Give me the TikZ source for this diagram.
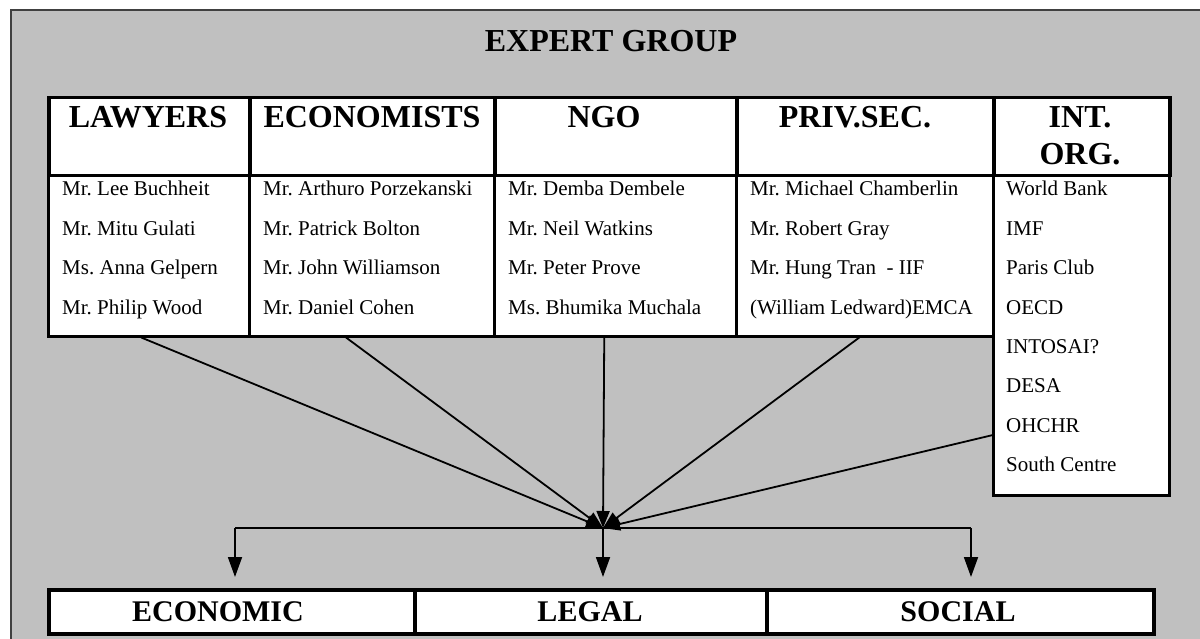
\documentclass[tikz,border=0pt]{standalone}
\usepackage{fontspec}
\setmainfont{Liberation Serif}
\usetikzlibrary{arrows.meta,calc}
\definecolor{panel}{HTML}{C0C0C0}
\definecolor{framecol}{HTML}{404040}

\begin{document}
\frenchspacing
\begin{tikzpicture}[x=1pt,y=-1pt,
  headcell/.style={draw,fill=white,line width=3.5pt,inner sep=0pt,anchor=north west},
  bodycell/.style={draw,fill=white,line width=2.5pt,inner sep=0pt,anchor=north west},
  areabox/.style={draw,fill=white,line width=4pt,inner sep=0pt,anchor=north west,minimum height=44pt},
  titletext/.style={font=\fontsize{32}{36}\selectfont\bfseries,inner sep=0pt,anchor=base},
  headtext/.style={font=\fontsize{32}{37}\selectfont\bfseries,inner sep=0pt,anchor=base},
  areatext/.style={font=\fontsize{30}{34}\selectfont\bfseries,inner sep=0pt,anchor=base},
  nametext/.style={font=\fontsize{21}{24}\selectfont,inner sep=0pt,anchor=base west},
  link/.style={line width=1.8pt,-{Triangle[length=17pt,width=13pt]}},
  plain/.style={line width=1.8pt},
  down/.style={line width=1.8pt,-{Triangle[length=20pt,width=14pt]}}]

\useasboundingbox (0,0) rectangle (1200,639);
\clip (0,0) rectangle (1200,639);
\fill[white] (0,0) rectangle (1200,639);

% grey panel with its frame
\draw[fill=panel,draw=framecol,line width=2pt] (11,10) rectangle (1210,650);

\node[titletext] (title) at (611,52) {EXPERT GROUP};

% table bodies
\node[bodycell,minimum width=201pt,minimum height=161pt] (b1) at (47,174) {};
\node[bodycell,minimum width=245pt,minimum height=161pt] (b2) at (248,174) {};
\node[bodycell,minimum width=242pt,minimum height=161pt] (b3) at (493,174) {};
\node[bodycell,minimum width=257pt,minimum height=161pt] (b4) at (735,174) {};
\node[bodycell,minimum width=176pt,minimum height=320pt] (b5) at (992,174) {};

% table headers
\node[headcell,minimum width=201pt,minimum height=78pt] (h1) at (47,96) {};
\node[headcell,minimum width=245pt,minimum height=78pt] (h2) at (248,96) {};
\node[headcell,minimum width=242pt,minimum height=78pt] (h3) at (493,96) {};
\node[headcell,minimum width=257pt,minimum height=78pt] (h4) at (735,96) {};
\node[headcell,minimum width=176pt,minimum height=78pt] (h5) at (992,96) {};

\node[headtext] (ht1) at (148,128) {LAWYERS};
\node[headtext] (ht2) at (372,128) {ECONOMISTS};
\node[headtext] (ht3) at (604,128) {NGO};
\node[headtext] (ht4) at (855,128) {PRIV.SEC.};
\node[headtext] (ht5a) at (1080,128) {INT.};
\node[headtext] (ht5b) at (1080,165) {ORG.};

% names
\node[nametext] (n11) at (62,196) {Mr. Lee Buchheit};
\node[nametext] (n12) at (62,235.4) {Mr. Mitu Gulati};
\node[nametext] (n13) at (62,274.7) {Ms. Anna Gelpern};
\node[nametext] (n14) at (62,314) {Mr. Philip Wood};

\node[nametext] (n21) at (263,196) {Mr. Arthuro Porzekanski};
\node[nametext] (n22) at (263,235.4) {Mr. Patrick Bolton};
\node[nametext] (n23) at (263,274.7) {Mr. John Williamson};
\node[nametext] (n24) at (263,314) {Mr. Daniel Cohen};

\node[nametext] (n31) at (508,196) {Mr. Demba Dembele};
\node[nametext] (n32) at (508,235.4) {Mr. Neil Watkins};
\node[nametext] (n33) at (508,274.7) {Mr. Peter Prove};
\node[nametext] (n34) at (508,314) {Ms. Bhumika Muchala};

\node[nametext] (n41) at (750,196) {Mr. Michael Chamberlin};
\node[nametext] (n42) at (750,235.4) {Mr. Robert Gray};
\node[nametext] (n43) at (750,274.7) {Mr. Hung Tran\ \ - IIF};
\node[nametext] (n44) at (750,314) {(William Ledward)EMCA};

\node[nametext] (n51) at (1006,196) {World Bank};
\node[nametext] (n52) at (1006,235.4) {IMF};
\node[nametext] (n53) at (1006,274.7) {Paris Club};
\node[nametext] (n54) at (1006,314) {OECD};
\node[nametext] (n55) at (1006,353.3) {INTOSAI?};
\node[nametext] (n56) at (1006,392.6) {DESA};
\node[nametext] (n57) at (1006,432) {OHCHR};
\node[nametext] (n58) at (1006,471) {South Centre};

% result areas
\node[areabox,minimum width=366pt] (eco) at (47,588) {};
\node[areabox,minimum width=352pt] (leg) at (413,588) {};
\node[areabox,minimum width=387pt] (soc) at (765,588) {};
\node[areatext] (ecot) at (218,621) {ECONOMIC};
\node[areatext] (legt) at (590,621) {LEGAL};
\node[areatext] (soct) at (958,621) {SOCIAL};

% meeting point and branch points
\coordinate (hub) at (603,528);
\coordinate (hubL) at (235,528);
\coordinate (hubR) at (971,528);
\coordinate (tipL) at (235,577);
\coordinate (tipC) at (603,577);
\coordinate (tipR) at (971,577);

% connectors into the meeting point
\draw[link] ($(b1.south west)!0.463!(b1.south east)$) -- (hub);
\draw[link] ($(b2.south west)!0.396!(b2.south east)$) -- (hub);
\draw[link] ($(b3.south west)!0.455!(b3.south east)$) -- (hub);
\draw[link] ($(b4.south west)!0.479!(b4.south east)$) -- (hub);
\draw[link] ($(b5.north west)!0.81!(b5.south west)$) -- (hub);

% distribution to the three areas
\draw[plain] (hubL) -- (hubR);
\draw[down] (hubL) -- (tipL);
\draw[down] (hub) -- (tipC);
\draw[down] (hubR) -- (tipR);

\end{tikzpicture}
\end{document}
